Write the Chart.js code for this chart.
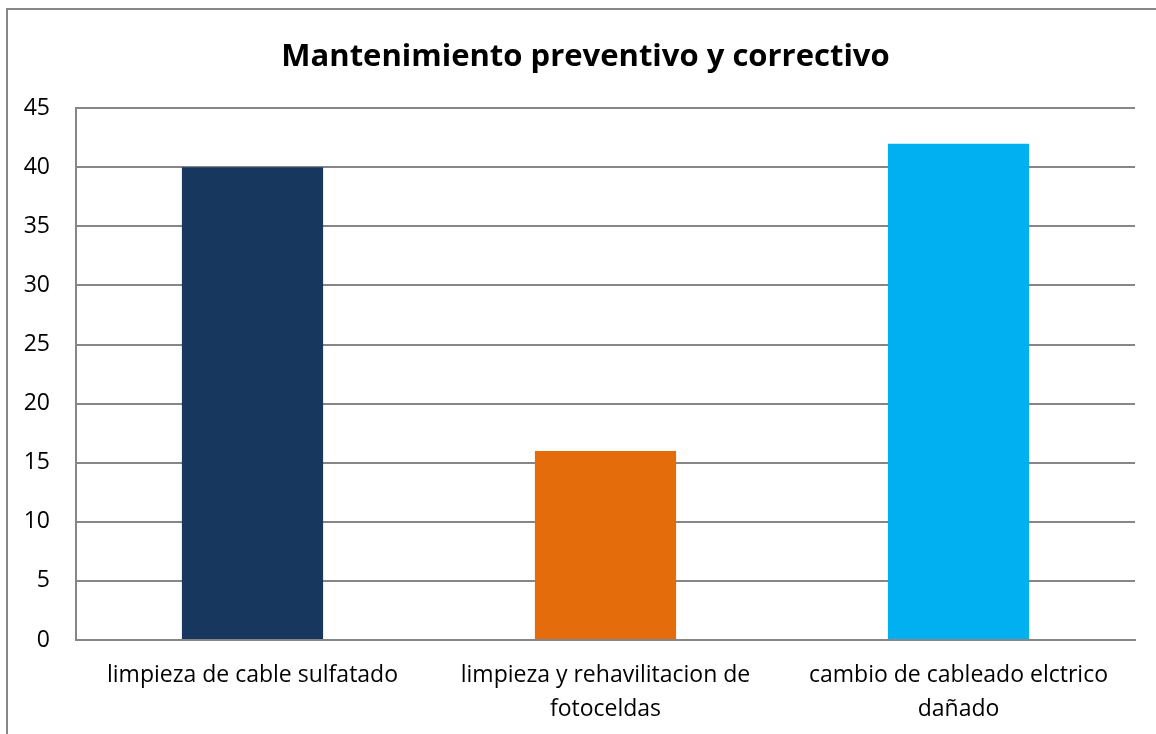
<!DOCTYPE html>
<html>
<head>
<meta charset="utf-8">
<script src="https://cdn.jsdelivr.net/npm/chart.js@4/dist/chart.umd.min.js"></script>
<style>
    body { margin: 0; background: #fff; overflow: hidden; }
    #frame {
        position: absolute; left: 6px; top: 8px;
        width: 1300px; height: 900px;
        border: 2px solid #868686;
    }
    #wrap { position: absolute; left: 0; top: 0; width: 1156px; height: 734px; }
</style>
</head>
<body>
<div id="frame"></div>
<div id="wrap"><canvas id="chart"></canvas></div>
<script>
// Categories and values
var categories = [
    'limpieza de cable sulfatado',
    ['limpieza y rehavilitacion de', 'fotoceldas'],
    ['cambio de cableado elctrico', 'dañado']
];
var values = [40, 16, 42];
var bar_colors = ['#17375E', '#E46C0A', '#00B0F0'];
var y_ticks = [0, 5, 10, 15, 20, 25, 30, 35, 40, 45];

const font_name = "'Open Sans', sans-serif";

// Move the title box a bit to the right, like the original
const title_shift = {
    id: 'title_shift',
    afterLayout(chart) {
        if (chart.titleBlock) {
            chart.titleBlock.left = 36;
        }
    }
};

document.addEventListener('DOMContentLoaded', () => {
    const ctx = document.getElementById('chart');

    new Chart(ctx, {
        type: 'bar',
        data: {
            labels: categories,
            datasets: [
                {
                    label: 'Mantenimiento',
                    data: values,
                    backgroundColor: bar_colors,
                    borderWidth: 0,
                    categoryPercentage: 1,
                    barPercentage: 0.4
                }
            ]
        },
        options: {
            responsive: true,
            maintainAspectRatio: false,
            animation: false,
            layout: {
                padding: { left: 0, right: 21, top: 0, bottom: 0 }
            },
            plugins: {
                legend: { display: false },
                tooltip: { enabled: false },
                title: {
                    display: true,
                    text: 'Mantenimiento preventivo y correctivo',
                    color: '#000',
                    font: { family: font_name, size: 31, weight: 'bold', lineHeight: 1.2 },
                    padding: { top: 39, bottom: 32 }
                }
            },
            scales: {
                x: {
                    grid: { display: false, drawTicks: false },
                    border: { display: true, color: '#868686', width: 2 },
                    ticks: {
                        color: '#000',
                        font: { family: font_name, size: 23, lineHeight: 1.5 },
                        padding: 18,
                        maxRotation: 0,
                        autoSkip: false
                    },
                    afterFit: (scale) => { scale.height = 94; }
                },
                y: {
                    min: 0,
                    max: 45,
                    afterBuildTicks: (scale) => {
                        scale.ticks = y_ticks.map(v => ({ value: v }));
                    },
                    grid: { color: '#868686', lineWidth: 2, drawTicks: false },
                    border: { display: true, color: '#868686', width: 2 },
                    ticks: {
                        color: '#000',
                        font: { family: font_name, size: 23 },
                        padding: 26
                    },
                    afterFit: (scale) => { scale.width = 76; }
                }
            }
        },
        plugins: [title_shift]
    });
});
</script>
</body>
</html>
